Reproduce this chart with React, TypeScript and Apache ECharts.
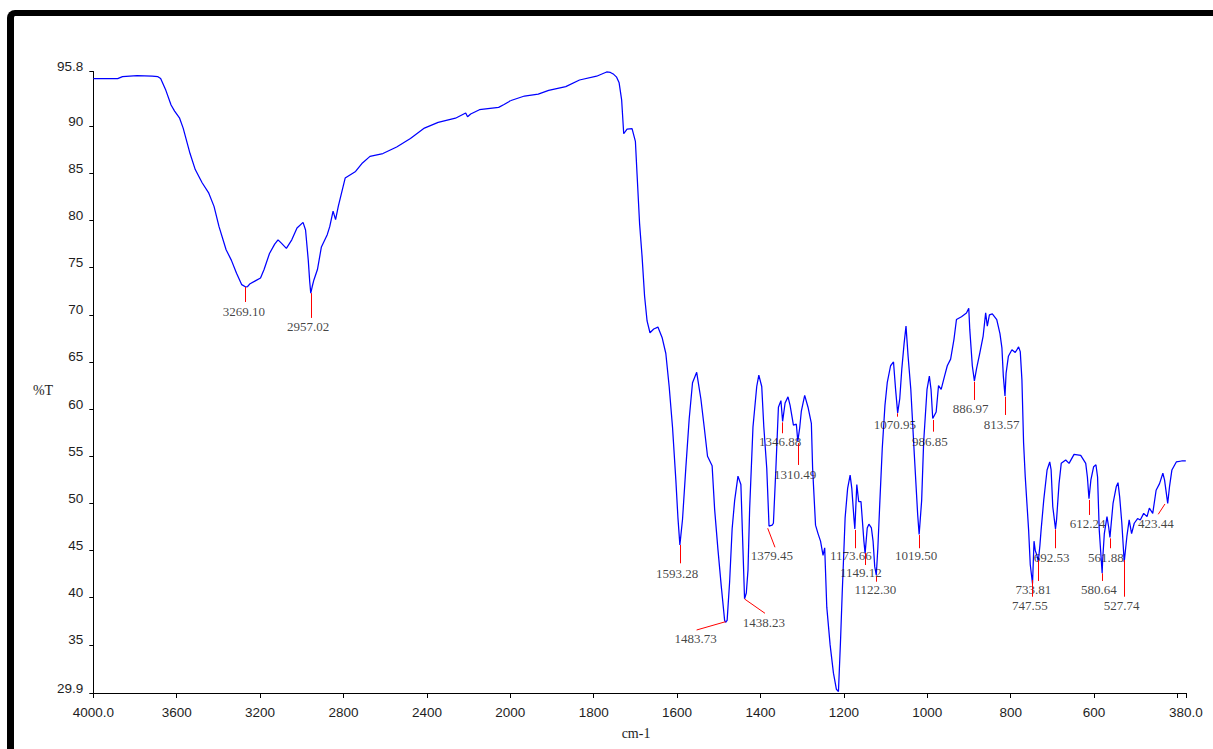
import React, { useEffect, useRef } from "react";
import * as echarts from "echarts";

// IR spectrum: wavenumber (cm-1) and transmittance (%T)
const wavenumbers = [
  4000, 3940, 3883, 3860, 3790, 3718, 3690, 3677, 3652, 3627, 3610, 3586, 3569, 3536, 3511, 3478, 3446, 3421, 3397, 3363,
  3338, 3313, 3288, 3269, 3260, 3248, 3223, 3198, 3181, 3155, 3130, 3114, 3098, 3074, 3048, 3023, 2994, 2982, 2969, 2962,
  2957, 2950, 2942, 2925, 2906, 2878, 2866, 2850, 2838, 2825, 2792, 2742, 2709, 2673, 2611, 2545, 2479, 2412, 2346, 2263,
  2214, 2205, 2190, 2148, 2056, 2030, 2007, 2000,
  1966, 1933, 1908, 1867, 1834, 1793, 1769, 1760, 1752, 1745, 1739, 1733, 1728, 1720, 1708, 1700, 1696, 1690, 1684, 1678,
  1672, 1665, 1656, 1646, 1636, 1627, 1619, 1611, 1603, 1598, 1593.3, 1587, 1579, 1571, 1563, 1553, 1543, 1535, 1527, 1516,
  1510, 1502, 1494, 1486, 1483.7, 1480, 1474, 1468, 1462, 1454, 1447, 1442, 1438.2, 1434, 1430, 1426, 1418, 1409, 1404, 1397,
  1392, 1385, 1379.5, 1372, 1369, 1363, 1357, 1351, 1346.9, 1341, 1334, 1329, 1321, 1314, 1310.5, 1306, 1302, 1294, 1286, 1278,
  1275, 1268, 1262, 1256, 1250, 1246, 1241, 1233, 1225, 1218, 1213, 1208, 1204, 1200, 1197, 1191, 1185, 1181, 1176, 1173.7,
  1169, 1164.5, 1159, 1152, 1149.1, 1144, 1140, 1134, 1130, 1126, 1122.3, 1118.5, 1114, 1108, 1101.5, 1096, 1088, 1081, 1076, 1071,
  1066, 1061, 1055.5, 1051, 1046, 1039.5, 1031, 1023, 1019.5, 1013.5, 1008.7, 1000.6, 995, 991, 986.9, 978.7, 973, 966.7, 958.6, 952,
  944, 936, 930, 918, 906, 900.5, 898, 892, 887, 881.8, 873.8, 866, 860, 856, 851, 844, 833.4, 825.7, 821, 817.6,
  813.6, 811, 805.5, 797, 789, 781, 777, 773, 769, 765, 761, 757, 753, 747.6, 744, 741, 737, 733.8, 730, 727,
  720.6, 712.7, 706.3, 703, 699, 692.5, 690, 684, 678.7, 668, 660, 648, 632, 620, 616, 612.2, 607.6, 601, 595.5, 591.6,
  587.6, 580.6, 579.4, 575.4, 569, 565, 561.9, 554.5, 546.6, 542.6, 538.6, 533.4, 527.7, 521.3, 515.8, 510, 503.6, 495.6, 489.2, 481,
  473, 467.4, 459.3, 451.2, 443, 435, 431, 423.4, 419, 413.3, 402.8, 390, 380,
];

const transmittance = [
  95.05, 95.05, 95.05, 95.25, 95.35, 95.3, 95.25, 95.05, 93.8, 92.25, 91.6, 90.85, 89.8, 87.1, 85.4, 84.0, 82.9, 81.5, 79.35, 76.9,
  75.8, 74.4, 73.2, 72.95, 73.0, 73.3, 73.6, 73.9, 74.8, 76.5, 77.5, 77.95, 77.6, 77.05, 77.95, 79.2, 79.8, 79.0, 75.8, 73.5,
  72.3, 73.0, 73.7, 74.8, 77.2, 78.5, 79.35, 81.0, 80.1, 81.5, 84.5, 85.2, 86.1, 86.8, 87.1, 87.8, 88.7, 89.8, 90.4, 90.85,
  91.4, 91.0, 91.3, 91.75, 92.0, 92.3, 92.6, 92.7,
  93.2, 93.4, 93.8, 94.2, 94.9, 95.3, 95.75, 95.7, 95.5, 95.2, 94.6, 92.8, 89.2, 89.7, 89.75, 88.4, 84.9, 79.7, 76.2, 72.0,
  69.35, 68.1, 68.5, 68.7, 67.6, 65.9, 62.4, 58.1, 52.5, 48.5, 45.6, 48.3, 53.8, 58.95, 62.8, 63.9, 61.1, 58.1, 55.0, 54.0,
  49.4, 45.1, 41.2, 37.6, 37.4, 37.6, 41.7, 47.3, 50.3, 52.9, 52.0, 45.1, 39.9, 40.5, 42.9, 49.4, 58.1, 62.4, 63.6, 62.4,
  58.1, 53.75, 47.6, 47.7, 47.9, 53.75, 60.2, 60.9, 58.7, 60.65, 61.3, 60.4, 58.3, 58.4, 56.6, 58.0, 59.8, 61.45, 60.2, 58.5,
  53.75, 47.7, 46.8, 46.0, 44.5, 45.3, 39.0, 35.0, 32.0, 30.3, 30.05, 35.5, 40.5, 45.0, 48.5, 51.6, 53.0, 51.6, 48.5, 47.3,
  52.0, 50.2, 50.2, 46.0, 44.7, 47.4, 47.8, 47.4, 46.0, 43.3, 42.4, 45.3, 49.9, 55.8, 60.4, 62.8, 64.6, 65.0, 62.1, 59.6,
  61.1, 64.3, 67.0, 68.8, 65.6, 62.1, 55.1, 48.8, 46.7, 50.3, 56.5, 62.1, 63.5, 62.1, 59.0, 59.7, 62.5, 62.1, 63.5, 64.6,
  65.3, 67.4, 69.5, 69.8, 70.2, 70.7, 68.4, 64.6, 63.0, 64.3, 66.0, 67.75, 70.2, 68.8, 70.0, 70.1, 69.5, 68.0, 66.5, 63.5,
  61.4, 63.8, 65.6, 66.3, 66.0, 66.6, 66.1, 63.1, 56.4, 52.8, 50.0, 47.2, 43.5, 41.5, 46.0, 45.0, 44.5, 43.8, 45.5, 47.2,
  50.4, 53.55, 54.4, 53.55, 49.65, 47.3, 48.25, 52.1, 54.25, 54.6, 54.25, 55.2, 55.1, 54.25, 52.8, 50.5, 52.5, 53.9, 54.1, 52.8,
  47.2, 42.6, 44.0, 46.8, 48.6, 47.5, 46.4, 50.0, 51.8, 52.2, 50.7, 47.9, 43.8, 46.5, 48.25, 46.8, 47.9, 48.4, 48.25, 48.95,
  48.6, 49.5, 48.95, 51.4, 52.1, 53.2, 52.5, 50.0, 51.8, 53.55, 54.4, 54.5, 54.5,
];

// tick values
const xTicksHigh = [2000, 2400, 2800, 3200, 3600, 4000];
const xTicksLow = [380, 400, 600, 800, 1000, 1200, 1400, 1600, 1800, 2000];
const xLabelsLow = [380, 600, 800, 1000, 1200, 1400, 1600, 1800];
const yTicks = [29.9, 35, 40, 45, 50, 55, 60, 65, 70, 75, 80, 85, 90, 95.8];

// peak annotations
const peakTexts = [
  "3269.10", "2957.02", "1593.28", "1483.73", "1438.23", "1379.45", "1346.88", "1310.49",
  "1173.66", "1149.12", "1122.30", "1070.95", "1019.50", "986.85", "886.97", "813.57",
  "747.55", "733.81", "692.53", "612.24", "580.64", "561.88", "527.74", "423.44",
];
const peakLineStart = [
  [3269.1, 72.95], [2957.02, 72.3], [1593.28, 45.6], [1483.73, 37.46], [1438.23, 39.87], [1382.7, 47.37], [1346.88, 58.6], [1310.49, 56.4],
  [1173.66, 47.19], [1149.12, 44.75], [1122.3, 42.23], [1070.95, 59.56], [1019.5, 46.65], [986.85, 58.85], [886.97, 62.91], [813.57, 61.32],
  [747.55, 41.88], [733.81, 44.0], [692.53, 47.26], [612.24, 50.37], [580.64, 42.59], [561.88, 46.3], [527.74, 44.0], [430, 49.94],
];
const peakLineEnd = [
  [3269.1, 71.36], [2957.02, 69.67], [1593.28, 43.65], [1553.2, 36.58], [1389.2, 38.35], [1365.2, 45.35], [1346.88, 57.44], [1310.49, 54.08],
  [1173.66, 45.25], [1149.12, 43.47], [1122.3, 41.7], [1070.95, 59.2], [1019.5, 45.25], [986.85, 57.61], [886.97, 60.97], [813.57, 59.38],
  [747.55, 40.11], [733.81, 41.78], [692.53, 45.25], [612.24, 48.78], [580.64, 41.78], [561.88, 45.25], [527.74, 40.11], [446.1, 48.85],
];
const peakLabelPos = [
  [3278, 70.4], [2970, 68.8], [1600, 42.6], [1555.6, 35.7], [1391.6, 37.38], [1372.4, 44.43], [1353, 56.55], [1317, 53.09],
  [1183, 44.43], [1159.5, 42.66], [1124.6, 40.9], [1077.5, 58.32], [1027, 44.46], [993.6, 56.55], [896, 60.09], [821.6, 58.32],
  [753.7, 39.13], [745.8, 40.9], [701.7, 44.29], [615.4, 47.9], [588.3, 40.9], [571.5, 44.29], [533.8, 39.13], [451.6, 47.9],
];

const SPLIT = 2000;
const RED = "#ff0000";
const BLUE = "#0000ff";

const spectrum = wavenumbers.map((w, i) => [w, transmittance[i]]);
const specHigh = spectrum.filter((p) => p[0] >= SPLIT);
const specLow = spectrum.filter((p) => p[0] <= SPLIT);

const peakIdx = peakTexts.map((_, i) => i);
const highPeaks = peakIdx.filter((i) => peakLineStart[i][0] > SPLIT);
const lowPeaks = peakIdx.filter((i) => peakLineStart[i][0] <= SPLIT);

const markLinesFor = (idx: number[]) => ({
  silent: true,
  symbol: ["none", "none"],
  itemStyle: { color: RED },
  lineStyle: { color: RED, width: 1, type: "solid", opacity: 1 },
  label: { show: false },
  emphasis: { disabled: true },
  data: idx.map((i) => [
    { coord: peakLineStart[i], lineStyle: { color: RED, width: 1, type: "solid" } },
    { coord: peakLineEnd[i] },
  ]),
});

const labelsFor = (idx: number[]) => idx.map((i) => [peakLabelPos[i][0], peakLabelPos[i][1], peakTexts[i]]);

const tickFont = { fontFamily: "Liberation Sans", fontSize: 13.5, color: "#1e1e1e" };
const axisBlack = { lineStyle: { color: "#000", width: 1 } };

const fmt = (v: number) => String(Math.round(v * 10) / 10);

const peakLabelStyle = {
  show: true,
  position: "inside",
  formatter: (p: any) => p.data[2],
  fontFamily: "Liberation Serif",
  fontSize: 13,
  color: "#111",
};

const option: any = {
  animation: false,
  backgroundColor: "transparent",
  grid: [
    { left: 93.3, top: 71.5, width: 417, height: 621.5 },
    { left: 510.3, top: 71.5, width: 675.5, height: 621.5 },
  ],
  xAxis: [
    {
      gridIndex: 0,
      type: "value",
      inverse: true,
      min: 2000,
      max: 4000,
      interval: 400,
      axisLine: { show: true, ...axisBlack },
      axisTick: { show: true, length: 5, ...axisBlack },
      axisLabel: {
        ...tickFont,
        margin: 12,
        showMinLabel: true,
        showMaxLabel: true,
        customValues: xTicksHigh,
        formatter: (v: number) => (v === 4000 ? "4000.0" : fmt(v)),
      },
      splitLine: { show: false },
    },
    {
      gridIndex: 1,
      type: "value",
      inverse: true,
      min: 380,
      max: 2000,
      axisLine: { show: true, ...axisBlack },
      axisTick: { show: true, length: 5, customValues: xTicksLow, ...axisBlack },
      axisLabel: {
        ...tickFont,
        margin: 12,
        customValues: xLabelsLow,
        formatter: (v: number) => (v === 380 ? "380.0" : fmt(v)),
      },
      splitLine: { show: false },
    },
  ],
  yAxis: [
    {
      gridIndex: 0,
      type: "value",
      min: 29.9,
      max: 95.8,
      axisLine: { show: true, ...axisBlack },
      axisTick: { show: true, length: 4, customValues: yTicks, ...axisBlack },
      axisLabel: {
        ...tickFont,
        margin: 10,
        verticalAlign: "bottom",
        lineHeight: 10,
        customValues: yTicks,
        formatter: (v: number) => fmt(v),
      },
      splitLine: { show: false },
    },
    {
      gridIndex: 1,
      type: "value",
      min: 29.9,
      max: 95.8,
      show: false,
      splitLine: { show: false },
    },
  ],
  series: [
    {
      type: "line",
      xAxisIndex: 0,
      yAxisIndex: 0,
      data: specHigh,
      showSymbol: false,
      symbol: "none",
      color: BLUE,
      lineStyle: { color: BLUE, width: 1.25 },
      markLine: markLinesFor(highPeaks),
      z: 3,
    },
    {
      type: "line",
      xAxisIndex: 1,
      yAxisIndex: 1,
      data: specLow,
      showSymbol: false,
      symbol: "none",
      color: BLUE,
      lineStyle: { color: BLUE, width: 1.25 },
      markLine: markLinesFor(lowPeaks),
      z: 3,
    },
    {
      type: "scatter",
      xAxisIndex: 0,
      yAxisIndex: 0,
      symbolSize: 0,
      silent: true,
      data: labelsFor(highPeaks),
      label: peakLabelStyle,
      z: 4,
    },
    {
      type: "scatter",
      xAxisIndex: 1,
      yAxisIndex: 1,
      symbolSize: 0,
      silent: true,
      data: labelsFor(lowPeaks),
      label: peakLabelStyle,
      z: 4,
    },
  ],
  graphic: [
    {
      type: "text",
      x: 43,
      y: 390,
      style: {
        text: "%T",
        fill: "#1e1e1e",
        font: "14px 'Liberation Serif'",
        align: "center",
        verticalAlign: "middle",
        textAlign: "center",
        textVerticalAlign: "middle",
      },
    },
    {
      type: "text",
      x: 636,
      y: 733,
      style: {
        text: "cm-1",
        fill: "#1e1e1e",
        font: "14px 'Liberation Serif'",
        align: "center",
        verticalAlign: "middle",
        textAlign: "center",
        textVerticalAlign: "middle",
      },
    },
  ],
};

export default function App() {
  const ref = useRef<HTMLDivElement>(null);
  useEffect(() => {
    if (!ref.current) return;
    const chart = echarts.init(ref.current, null, { renderer: "svg" });
    chart.setOption(option);
    return () => chart.dispose();
  }, []);
  return (
    <div
      style={{
        position: "fixed",
        left: 0,
        top: 0,
        width: 1213,
        height: 749,
        background: "#fff",
        overflow: "hidden",
      }}
    >
      <div
        style={{
          position: "absolute",
          left: 7,
          top: 10,
          width: 1300,
          height: 800,
          borderTop: "6px solid #000",
          borderLeft: "7px solid #000",
          borderTopLeftRadius: 8,
          boxSizing: "border-box",
          pointerEvents: "none",
        }}
      />
      <div ref={ref} style={{ position: "absolute", left: 0, top: 0, width: 1213, height: 749 }} />
    </div>
  );
}
